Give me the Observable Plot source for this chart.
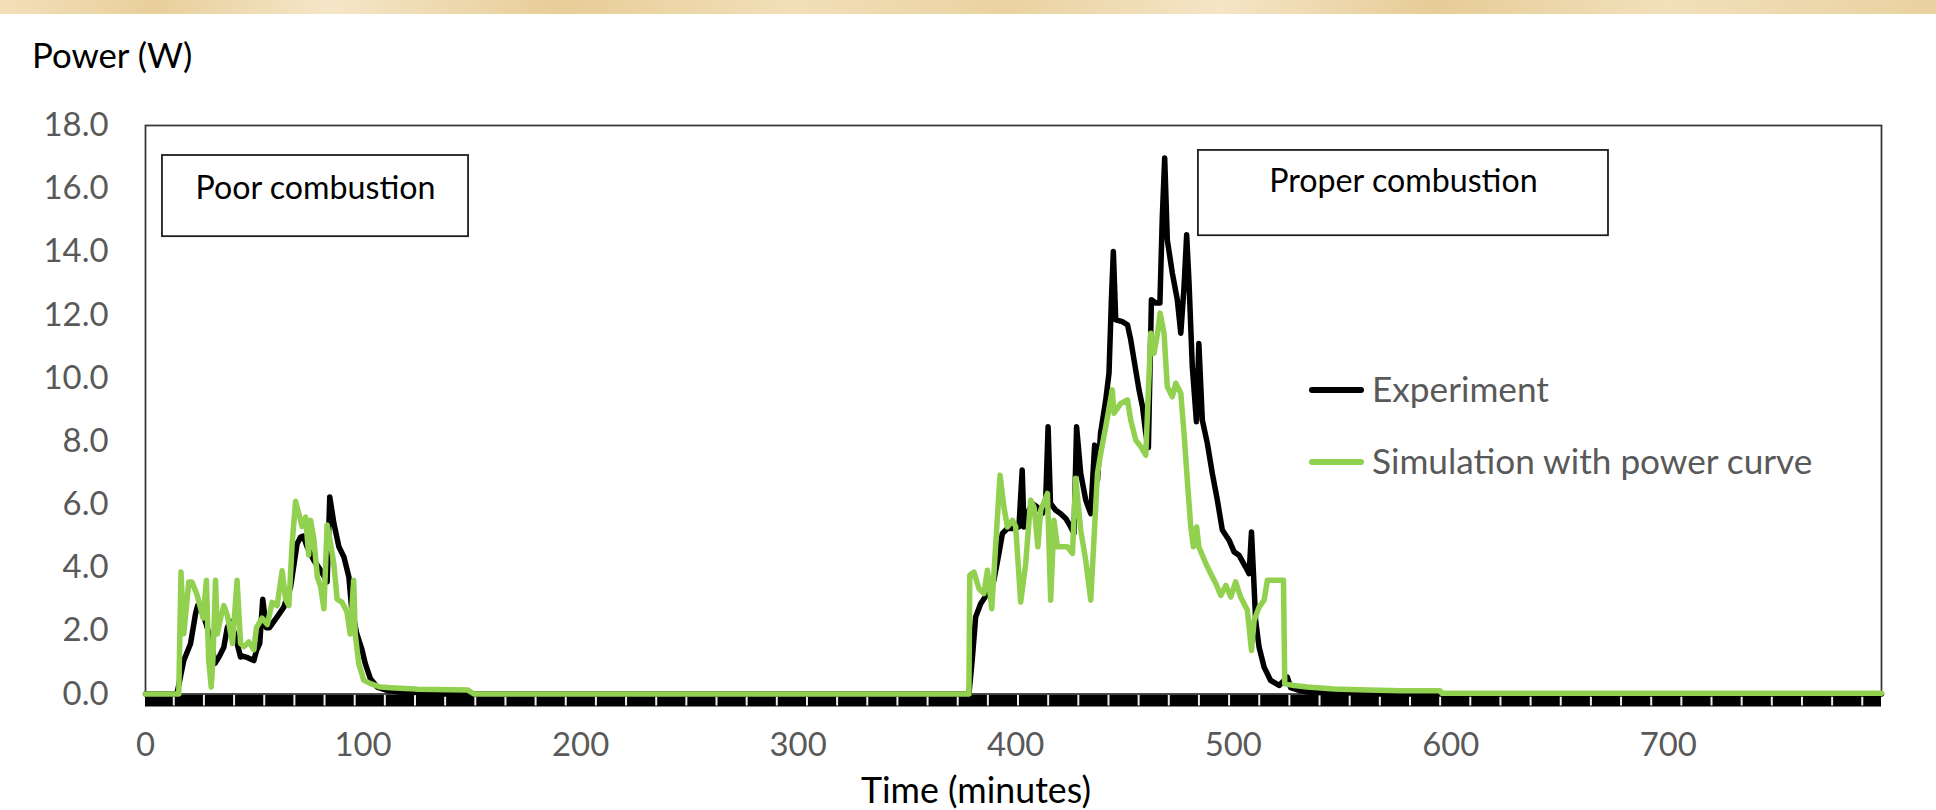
<!DOCTYPE html>
<html>
<head>
<meta charset="utf-8">
<script src="https://cdn.jsdelivr.net/npm/d3@7"></script>
<script src="https://cdn.jsdelivr.net/npm/@observablehq/plot@0.6"></script>
<style>
  html, body { margin: 0; padding: 0; background: #fff; }
  #wrap { position: relative; width: 1936px; height: 810px; overflow: hidden; background: #fff; }
  #strip { position: absolute; left: 0; top: 0; width: 1936px; height: 14px;
    background: linear-gradient(90deg, #f3dfb9 0%, #e8cf9c 8%, #f5e6c8 17%, #e7cd98 29%, #f2dfb8 41%, #ead2a1 52%, #f5e5c6 63%, #e6cc97 74%, #f2e0bb 86%, #e9d1a0 100%); }
  #chart, #overlay { position: absolute; left: 0; top: 0; }
</style>
</head>
<body>
<div id="wrap">
  <div id="strip"></div>
  <div id="chart"></div>
</div>
<script>
// ---------------- data ----------------
const expTime = [0,14,14.6,17.6,20.7,23,24,26,28,29.9,32,34,36,37.6,39,41,43.7,44.6,47,49.8,51,52.5,53.9,55.5,57,60.5,63.6,66.7,69.7,71.3,72.5,74.3,77.4,80.5,83.5,84.7,86.6,88.9,91.2,93.5,94.7,97.1,99.4,101,103.4,106.5,111,117,130,135,378.5,380,381.6,383.9,387,390,392.3,393.9,396.2,399.2,401.5,403,403.8,406,407.6,409.9,412.3,413.8,414.9,416,418.4,420.7,423,425.3,426.8,428,429.9,432.2,434.5,436.3,437.6,439,441.4,442.9,444,444.9,446,449,451.4,452.9,454.4,456.7,458.3,459.8,461,462.4,464.4,466.3,467.4,468.5,469.7,472,474.3,475.9,477.4,478.6,479.7,481.2,483.1,484.2,485.8,488.1,490.4,492.7,495,498.1,500.4,502.7,505.7,507.3,508.4,509.6,510.3,511.9,514.2,517.2,521.1,524.9,526.4,531,535.6,560,562,798];
const expPower = [0,0,0.05,1.06,1.59,2.54,2.8,2.6,2.2,1.7,0.97,1.2,1.48,2.1,2.3,1.9,1.17,1.2,1.15,1.06,1.37,1.6,3.0,2.1,2.1,2.44,2.75,3.39,4.76,4.97,5.0,4.66,4.23,3.92,3.55,6.24,5.4,4.66,4.34,3.7,2.75,1.91,1.43,0.97,0.48,0.22,0.11,0.06,0.04,0,0,1.06,2.44,2.86,3.18,3.6,4.45,5.08,5.24,5.24,5.29,7.09,5.29,5.8,6.03,5.92,5.72,6.14,8.46,6.03,5.82,5.71,5.56,5.29,5.08,8.46,6.98,6.14,5.71,7.88,6.77,8.25,9.31,10.16,12.48,14.01,11.85,11.79,11.69,11.21,10.58,9.63,9.1,8.25,7.8,12.48,12.38,12.38,15.1,16.97,14.38,13.33,12.48,11.42,12.9,14.54,13.0,10.36,8.62,11.1,8.67,7.94,6.98,6.14,5.19,4.87,4.5,4.39,4.02,3.81,5.13,3.39,2.33,1.48,0.85,0.43,0.27,0.53,0.2,0.1,0.05,0.03,0,0];

const simTime = [0,15.3,16.3,17.6,19.9,21.3,23.5,25,26.5,28,29,30.2,31,32.2,33,34.5,36,37.6,40,42.1,43.7,45.3,47.5,49.8,51,53.6,56,58.2,60.5,62.8,64.4,65.9,67.4,69,70.5,72,73.6,75,75.9,77.4,79,80.5,82,83.5,85,86.6,88.1,90.4,92.6,94.1,95.7,96.4,98,100.3,103.4,108,112.6,121.8,125,148,151,378.5,378.9,380.8,383.1,385.4,387,389,392.8,394.6,396.2,398.5,400,402.3,404.6,406.9,408.5,410.2,411.5,414.6,416.1,417.6,419.2,423.8,426.1,427.6,429.9,432.2,434.5,437.6,439.1,441.4,444.4,445.2,448.3,451.4,452.9,455.2,457.5,459.8,462.1,463.6,465.2,466.4,468.2,469.7,472,473.6,475.9,477.4,479,480.5,481.7,483.2,484.2,487.4,489.7,492,494.3,496.6,498.9,501.1,503.4,506.5,508.4,509.6,511.9,514.2,515.7,520.3,523.1,523.7,528,534.1,546.4,561.7,577,595,596,798];
const simPower = [0,0,3.86,1.91,3.55,3.55,3.18,2.8,2.4,3.6,1.1,0.22,1.1,3.6,1.9,2.4,2.8,2.5,1.6,3.6,1.6,1.5,1.65,1.4,2.1,2.4,2.2,2.9,2.8,3.9,3.0,2.8,4.76,6.1,5.7,5.3,5.6,4.4,5.5,4.9,3.7,3.4,2.7,5.35,4.8,4.1,3.0,2.9,2.6,1.9,3.6,1.9,0.97,0.44,0.33,0.22,0.2,0.17,0.15,0.13,0,0,3.76,3.86,3.34,3.18,3.92,2.7,6.93,5.92,5.29,5.5,5.3,2.91,4.13,6.14,5.9,4.66,5.82,6.35,2.97,5.5,4.66,4.66,4.45,6.83,5.19,4.23,2.97,6.98,7.62,8.46,9.63,8.89,9.2,9.31,8.67,8.04,7.83,7.56,11.42,10.79,11.42,12.06,11.42,9.73,9.41,9.84,9.52,8.25,6.67,5.29,4.66,5.29,4.66,4.13,3.81,3.5,3.12,3.44,3.07,3.55,3.07,2.65,1.38,2.33,2.75,2.97,3.6,3.6,3.6,0.32,0.27,0.22,0.16,0.13,0.1,0.1,0.02,0.02];

const seriesNames = ["Experiment", "Simulation with power curve"];
const seriesColors = ["#000000", "#92D050"];
const xTicks = [0, 100, 200, 300, 400, 500, 600, 700];
const yTicks = [0, 2, 4, 6, 8, 10, 12, 14, 16, 18];
const xDomain = [0, 798];
const yDomain = [0, 18];
const yTitle = "Power (W)";
const xTitle = "Time (minutes)";
const boxLabels = ["Poor combustion", "Proper combustion"];
const boxX1 = [7.8, 484.0];
const boxX2 = [148.5, 672.5];
const boxY1 = [14.48, 14.51];
const boxY2 = [17.05, 17.21];
const boxTextY = [15.68, 15.91];
// dense category-axis tick band separators
const bandTicks = d3.range(13.0, 795, 13.86);

// ---------------- tables ----------------
const exp = expTime.map((t, i) => ({t, p: expPower[i]}));
const sim = simTime.map((t, i) => ({t, p: simPower[i]}));
const boxes = boxLabels.map((label, i) => ({label, x1: boxX1[i], x2: boxX2[i], y1: boxY1[i], y2: boxY2[i], ty: boxTextY[i]}));

// ---------------- font fitting ----------------
const FONT = "Lato";
const ctx = document.createElement("canvas").getContext("2d");
function fitSize(str, target) {
  ctx.font = `100px ${FONT}`;
  return 100 * target / ctx.measureText(str).width;
}
const tickFs = fitSize("18.0", 65);
const yTitleFs = fitSize(yTitle, 161);
const boxFs = (fitSize(boxLabels[0], 240) + fitSize(boxLabels[1], 270)) / 2;
const legendFs = fitSize(seriesNames[1], 442);
const xTitleFs = fitSize(xTitle, 230);

// ---------------- plot ----------------
const W = 1936, H = 810;
const chart = Plot.plot({
  width: W, height: H,
  marginTop: 125, marginBottom: 116.5, marginLeft: 145, marginRight: 55,
  x: {domain: xDomain, label: null},
  y: {domain: yDomain, label: null},
  style: {fontFamily: FONT, background: "transparent", color: "#595959", overflow: "visible"},
  marks: [
    Plot.ruleY([0], {stroke: "#000", strokeWidth: 12, dy: 6.5}),
    Plot.axisX({ticks: bandTicks, tickSize: 12, stroke: "#ececec", strokeWidth: 2, tickFormat: () => "", label: null}),
    Plot.axisX({ticks: xTicks, tickSize: 0, tickPadding: 61.5 - 0.71 * tickFs, fontSize: tickFs, fill: "#595959", tickFormat: d => String(d), label: null}),
    Plot.axisY({ticks: yTicks, tickSize: 0, tickPadding: 37, fontSize: tickFs, fill: "#595959", tickFormat: d => d.toFixed(1), label: null}),
    Plot.frame({stroke: "#3a3a3a", strokeWidth: 1.8}),
    Plot.rect(boxes, {x1: "x1", x2: "x2", y1: "y1", y2: "y2", fill: "#fff", stroke: "#1e1e1e", strokeWidth: 1.8}),
    Plot.text(boxes, {x: d => (d.x1 + d.x2) / 2, y: "ty", text: "label", lineAnchor: "bottom", fontSize: boxFs, fill: "#000"}),
    Plot.line(exp, {x: "t", y: "p", stroke: seriesColors[0], strokeWidth: 5.5, strokeLinejoin: "round", strokeLinecap: "round"}),
    Plot.line(sim, {x: "t", y: "p", stroke: seriesColors[1], strokeWidth: 5.5, strokeLinejoin: "round", strokeLinecap: "round"})
  ]
});
document.getElementById("chart").appendChild(chart);

// ---------------- titles and legend ----------------
const ov = d3.select("#wrap").append("svg").attr("id", "overlay")
  .attr("width", W).attr("height", H).style("font-family", FONT);
ov.append("text").attr("x", 32).attr("y", 68).attr("font-size", yTitleFs).attr("fill", "#000").text(yTitle);
ov.append("text").attr("x", 861).attr("y", 803).attr("font-size", xTitleFs).attr("fill", "#000").text(xTitle);
const legY = [390, 462];
seriesNames.forEach((name, i) => {
  ov.append("line").attr("x1", 1312).attr("x2", 1361).attr("y1", legY[i]).attr("y2", legY[i])
    .attr("stroke", seriesColors[i]).attr("stroke-width", 6).attr("stroke-linecap", "round");
  ov.append("text").attr("x", 1372).attr("y", legY[i]).attr("dy", "0.35em")
    .attr("font-size", legendFs).attr("fill", "#595959").text(name);
});
</script>
</body>
</html>
